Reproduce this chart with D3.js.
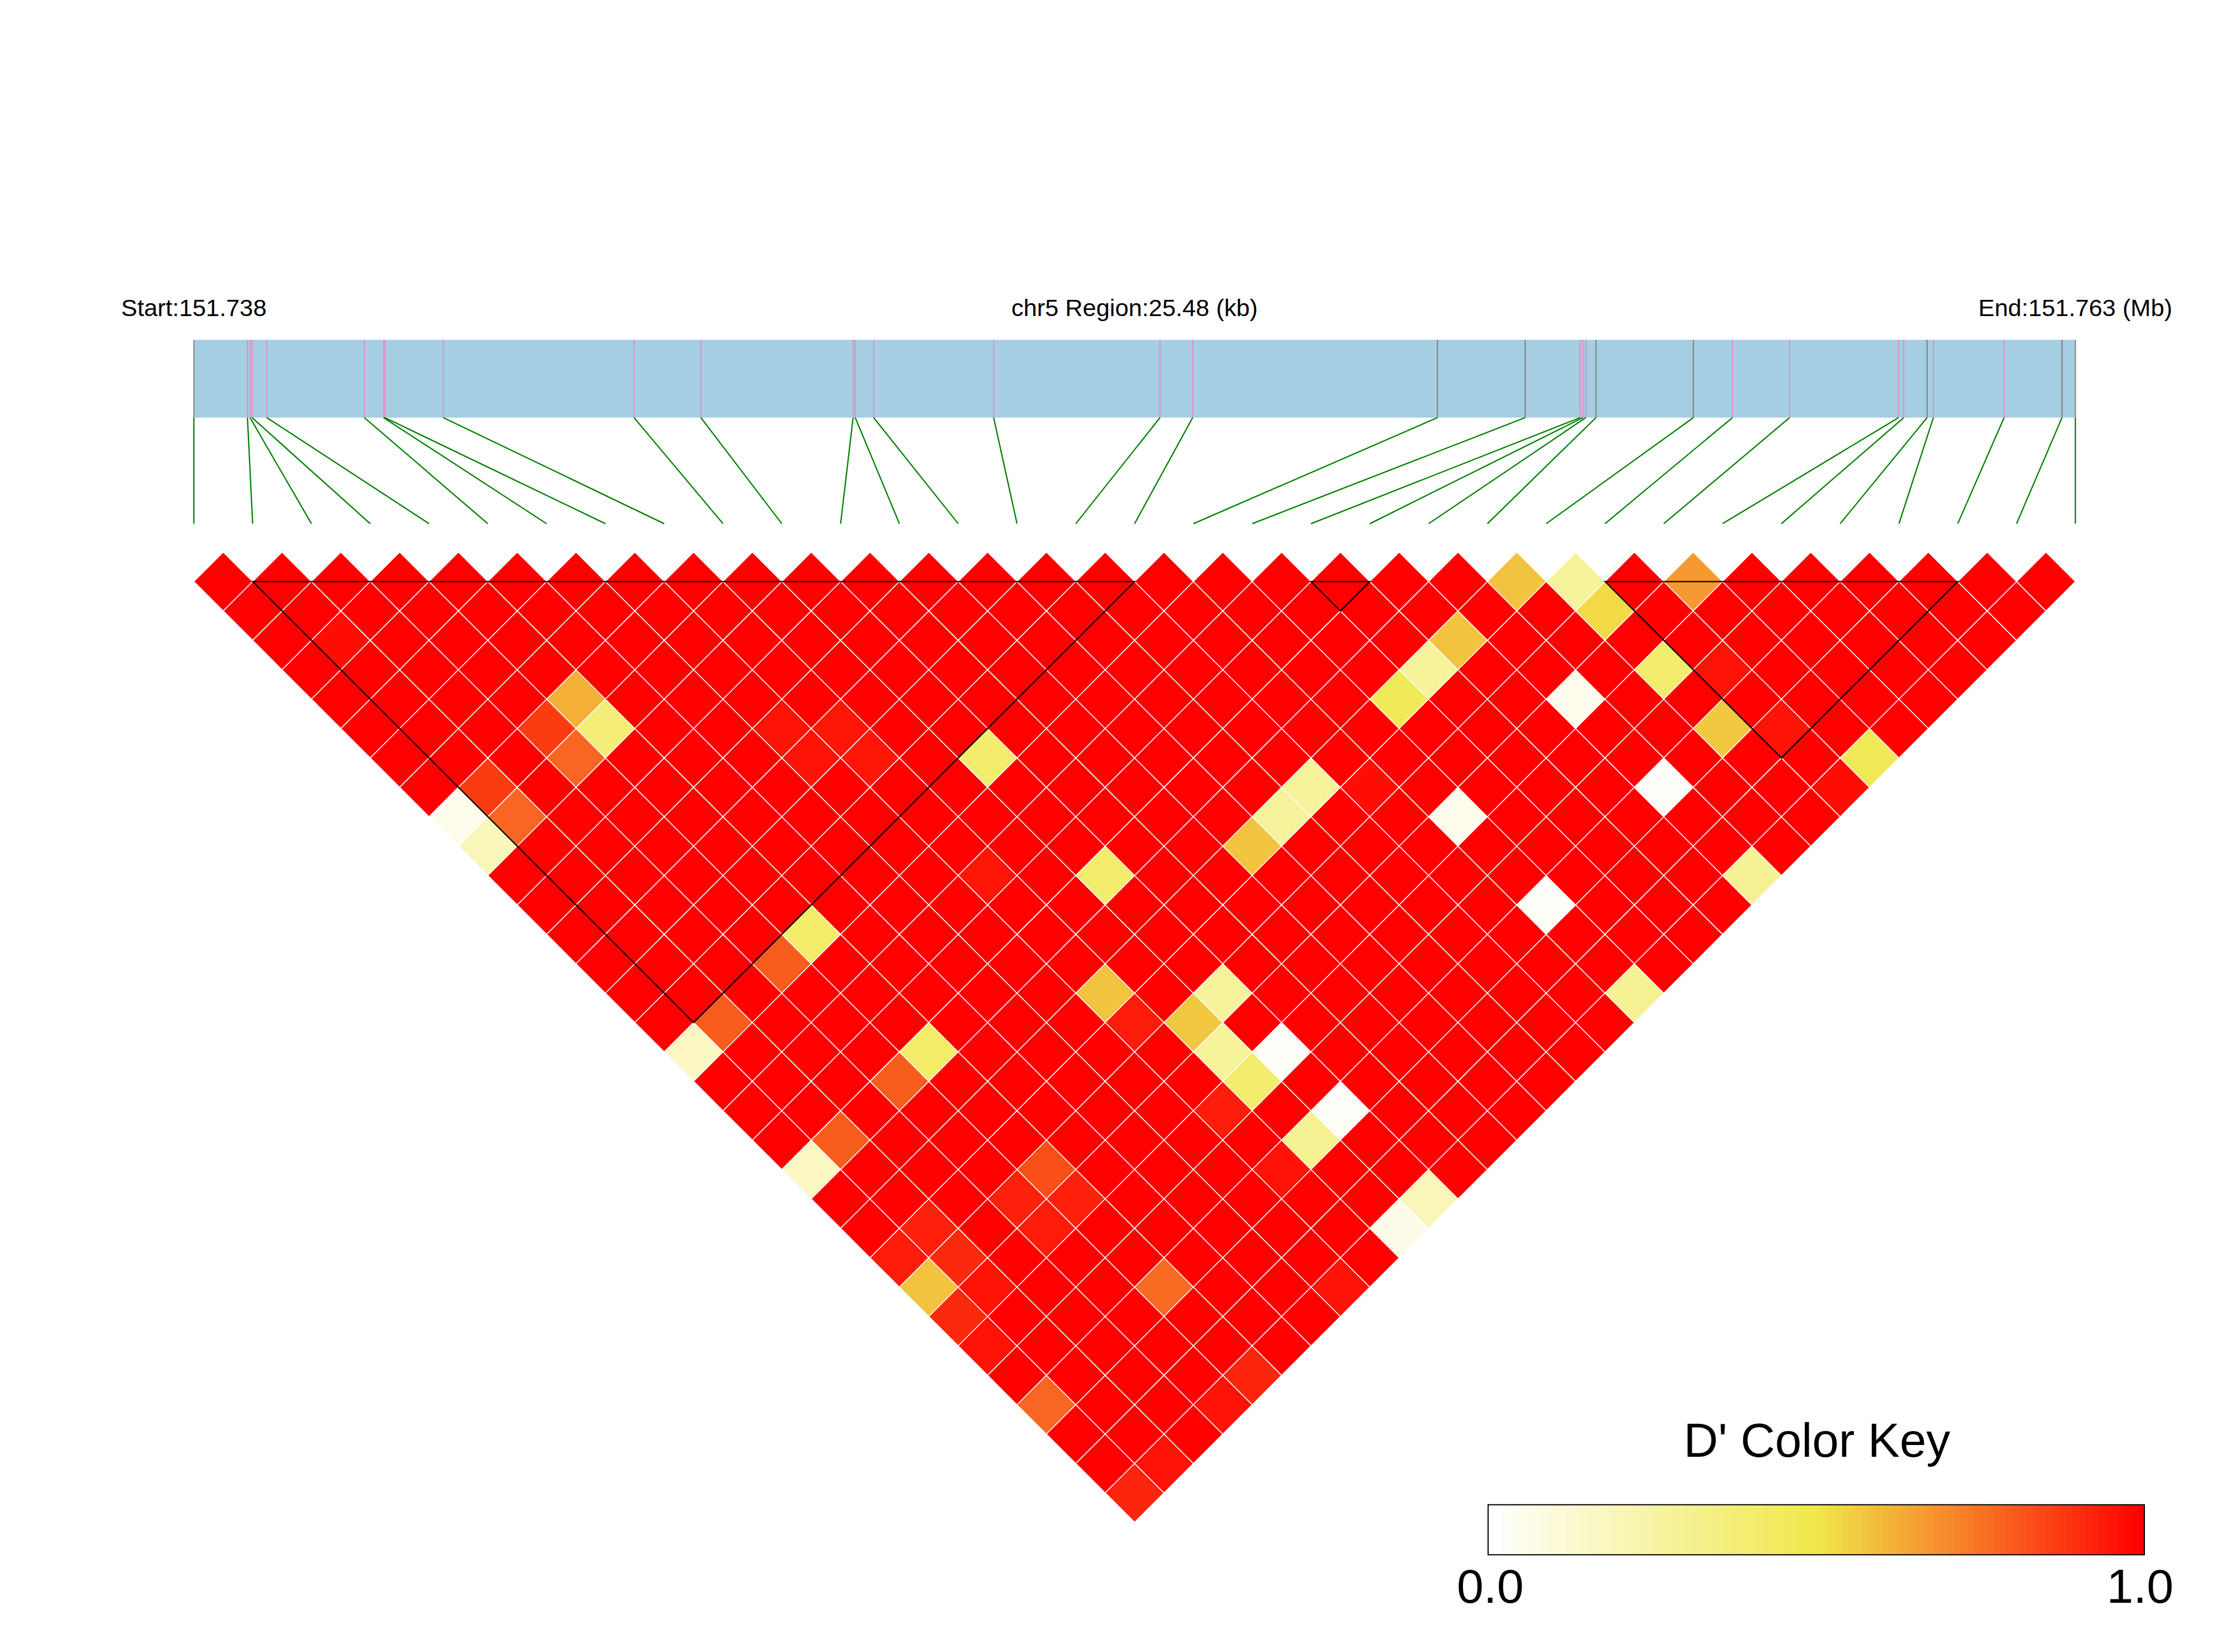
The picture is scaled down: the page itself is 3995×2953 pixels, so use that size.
<!DOCTYPE html>
<meta charset="utf-8">
<style>
body { margin: 0; background: #fff; }
svg { font-family: "Liberation Sans", Arial, Helvetica, sans-serif; }
</style>
<script src="https://cdn.jsdelivr.net/npm/d3@7"></script>
<svg width="3995" height="2953" viewBox="0 0 1568 1159"></svg>
<script>
// region shown on the physical map (bp)
var chrom = "chr5";
var regionStart = 151738000,
    regionEnd = 151763480;

// SNP positions (bp)
var snpPos = [151738000, 151738726, 151738761, 151738788, 151738987, 151740309, 151740569,
  151740587, 151741378, 151743961, 151744866, 151746928, 151746957, 151747206, 151748831,
  151751084, 151751526, 151754842, 151756029, 151756773, 151756811, 151756850, 151756988,
  151758307, 151758836, 151759610, 151761086, 151761156, 151761472, 151761557, 151762515,
  151763299, 151763480];

// tick colour class on the bar: g = grey, p = pink
var snpMark = ["g","p","p","p","p","p","p","p","p","p","p","p","p","p","p","p","p",
  "g","g","p","p","p","g","g","p","p","p","p","g","p","p","g","g"];

// LD blocks (first SNP index, last SNP index)
var blocks = [[1, 16], [19, 20], [24, 30]];

// pairs whose D' is below 1 : [i, j, D']; every other pair is 1.0
var lowD = [
  [22,23,0.58],[23,24,0.27],[25,26,0.67],[23,25,0.53],[20,23,0.58],[19,23,0.27],
  [18,23,0.46],[23,27,0.40],[21,26,0.05],[23,29,0.57],[25,32,0.47],[21,29,0.02],
  [21,32,0.30],[17,26,0.05],[17,29,0.02],[17,32,0.30],[15,23,0.27],[14,23,0.27],
  [13,23,0.58],[10,17,0.40],[10,21,0.40],[4,9,0.62],[4,10,0.37],[3,9,0.87],
  [3,10,0.78],[1,9,0.87],[1,10,0.78],[0,9,0.05],[0,10,0.19],[4,17,0.42],
  [3,17,0.80],[1,17,0.80],[0,17,0.17],[8,23,0.58],[10,25,0.27],[9,25,0.57],
  [9,26,0.27],[10,27,0.02],[9,27,0.40],[10,29,0.02],[9,29,0.30],[10,32,0.20],
  [9,32,0.06],[4,21,0.42],[3,21,0.80],[1,21,0.80],[0,21,0.17],[0,25,0.58],
  [0,26,0.91],[1,25,0.91],[4,25,0.83],[4,29,0.77],[0,29,0.78],[4,32,0.92],
  [0,32,0.92],
  [1,4,0.97],[8,14,0.95],[8,15,0.95],[8,19,0.95],[7,13,0.96],[7,14,0.96],
  [16,24,0.97],[24,28,0.96],[24,30,0.96],[24,32,0.97],[3,25,0.93],[4,26,0.93],
  [3,26,0.94],[1,24,0.93],[0,24,0.94],[0,27,0.96],[1,26,0.96],[7,32,0.96],
  [3,32,0.96],[1,32,0.96],[8,24,0.94],[8,27,0.94],[8,29,0.96]
];

var keyTitle = "D' Color Key";
var keyTicks = [0, 1];

var svg = d3.select("svg");

var x0 = 136, x1 = 1456,
    barTop = 238.4, barBot = 293,
    linkBot = 367.4,
    rowTop = 408;

var n = snpPos.length;
var pos = d3.scaleLinear().domain([regionStart, regionEnd]).range([x0, x1]);
var idx = d3.scaleLinear().domain([0, n - 1]).range([x0, x1]);
var half = (idx(1) - idx(0)) / 2;
var row = d3.scaleLinear().domain([1, n - 1]).range([rowTop, rowTop + (n - 2) * half]);

var color = d3.scaleLinear()
    .domain([0, 0.5, 1])
    .range(["#ffffff", "#f0e84a", "#ff0000"]);

// header text
var fmt3 = d3.format(".3f"), fmt2 = d3.format(".2f");
var head = svg.append("g").attr("font-size", 17);
head.append("text").attr("x", x0).attr("y", 221.7).attr("text-anchor", "middle")
    .text("Start:" + fmt3(regionStart / 1e6));
head.append("text").attr("x", (x0 + x1) / 2).attr("y", 221.7).attr("text-anchor", "middle")
    .text(chrom + " Region:" + fmt2((regionEnd - regionStart) / 1000) + " (kb)");
head.append("text").attr("x", x1).attr("y", 221.7).attr("text-anchor", "middle")
    .text("End:" + fmt3(regionEnd / 1e6) + " (Mb)");

// physical map bar
svg.append("rect")
    .attr("x", x0).attr("y", barTop)
    .attr("width", x1 - x0).attr("height", barBot - barTop)
    .attr("fill", "#a6cee3");

svg.append("g").selectAll("line")
    .data(snpPos)
  .enter().append("line")
    .attr("x1", function(d) { return pos(d); })
    .attr("x2", function(d) { return pos(d); })
    .attr("y1", barTop).attr("y2", barBot)
    .attr("stroke", function(d, i) { return snpMark[i] == "g" ? "#808080" : "#e58ac4"; })
    .attr("stroke-width", 0.8);

// links from map to heatmap columns
svg.append("g").selectAll("line")
    .data(snpPos)
  .enter().append("line")
    .attr("x1", function(d) { return pos(d); })
    .attr("y1", barBot)
    .attr("x2", function(d, i) { return idx(i); })
    .attr("y2", linkBot)
    .attr("stroke", "#008000")
    .attr("stroke-width", 0.9);

// LD heatmap
var dmap = new Map(lowD.map(function(d) { return [d[0] + "-" + d[1], d[2]]; }));
var cells = [];
for (var i = 0; i < n; i++) {
  for (var j = i + 1; j < n; j++) {
    var v = dmap.has(i + "-" + j) ? dmap.get(i + "-" + j) : 1;
    cells.push({i: i, j: j, d: v});
  }
}

svg.append("g").selectAll("path")
    .data(cells)
  .enter().append("path")
    .attr("d", function(c) {
      var cx = idx((c.i + c.j) / 2), cy = row(c.j - c.i);
      return "M" + (cx - half) + "," + cy + "L" + cx + "," + (cy - half) +
             "L" + (cx + half) + "," + cy + "L" + cx + "," + (cy + half) + "Z";
    })
    .attr("fill", function(c) { return color(c.d); })
    .attr("stroke", "#ffffff")
    .attr("stroke-width", 0.6);

// block outlines
svg.append("g").selectAll("path")
    .data(blocks)
  .enter().append("path")
    .attr("d", function(b) {
      return "M" + idx(b[0]) + "," + rowTop +
             "L" + idx((b[0] + b[1]) / 2) + "," + (rowTop + (b[1] - b[0]) * half) +
             "L" + idx(b[1]) + "," + rowTop + "Z";
    })
    .attr("fill", "none")
    .attr("stroke", "#000")
    .attr("stroke-width", 0.9);

// colour key
var kx0 = 1044, kx1 = 1504.4, ky0 = 1055.7, ky1 = 1090.8;
var steps = d3.range(100);
var kx = d3.scaleLinear().domain([0, 100]).range([kx0, kx1]);
var key = svg.append("g");
key.selectAll("rect")
    .data(steps)
  .enter().append("rect")
    .attr("x", function(k) { return kx(k); })
    .attr("y", ky0)
    .attr("width", kx(1) - kx(0) + 0.3)
    .attr("height", ky1 - ky0)
    .attr("fill", function(k) { return color(k / 99); });
key.append("rect")
    .attr("x", kx0).attr("y", ky0)
    .attr("width", kx1 - kx0).attr("height", ky1 - ky0)
    .attr("fill", "none").attr("stroke", "#000").attr("stroke-width", 0.8);
key.append("text")
    .attr("x", (kx0 + kx1) / 2 + 0.5).attr("y", 1022.1)
    .attr("text-anchor", "middle").attr("font-size", 33.5)
    .text(keyTitle);
var kt = d3.scaleLinear().domain([0, 1]).range([kx0, kx1]);
key.selectAll(".tick")
    .data(keyTicks)
  .enter().append("text")
    .attr("x", function(t) { return kt(t) + (t ? -3 : 1.5); })
    .attr("y", 1124.4)
    .attr("text-anchor", "middle").attr("font-size", 33.8)
    .text(function(t) { return d3.format(".1f")(t); });
</script>
